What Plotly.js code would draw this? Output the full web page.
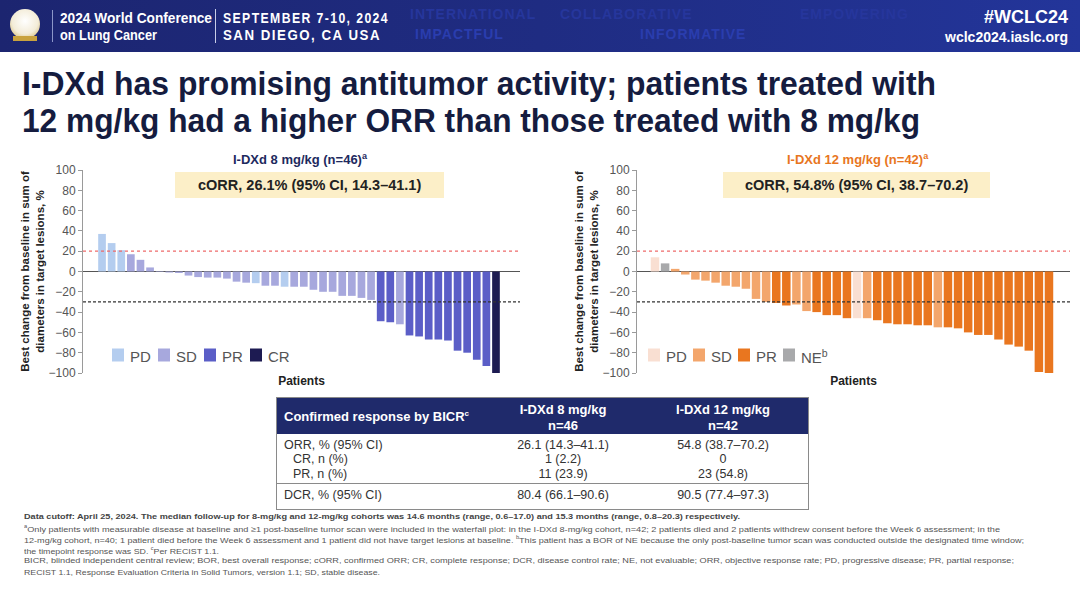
<!DOCTYPE html>
<html>
<head>
<meta charset="utf-8">
<script src="https://cdn.plot.ly/plotly-3.0.1.min.js"></script>
<style>
  html,body{margin:0;padding:0;background:#fff;}
  body{width:1080px;height:595px;position:relative;overflow:hidden;font-family:"Liberation Sans",Arial,sans-serif;}
  #chart{position:absolute;left:0;top:0;width:1080px;height:595px;z-index:0;}
  .layer{z-index:2;}
  .fit{display:inline-block;transform-origin:0 50%;}
  #header{position:absolute;left:0;top:0;width:1080px;height:52px;background:linear-gradient(90deg,#1c2570 0%,#1f2c82 50%,#23359a 100%);z-index:1;overflow:hidden;}
  .faint{position:absolute;color:#26369c;font-weight:bold;font-size:14px;letter-spacing:1px;white-space:nowrap;}
  .hw{position:absolute;color:#fff;white-space:nowrap;}
  .title{position:absolute;left:22px;color:#151c3f;font-family:"Liberation Sans Narrow","Arial Narrow","Liberation Sans",Arial,sans-serif;font-weight:bold;font-size:34px;white-space:nowrap;line-height:1;}
  #table{position:absolute;left:276px;top:397px;width:531px;height:111px;border:1px solid #8a8a8a;z-index:2;background:transparent;}
  .th{position:absolute;color:#fff;font-weight:bold;font-size:13px;white-space:nowrap;line-height:1;}
  .td{position:absolute;color:#333;font-size:12.5px;white-space:nowrap;line-height:1;}
  .fn{position:absolute;left:24px;color:#555;font-size:8px;white-space:nowrap;line-height:1;}
</style>
</head>
<body>
<div id="chart"></div>

<div id="header">
  <div class="faint" style="left:410px;top:6px;">INTERNATIONAL</div>
  <div class="faint" style="left:560px;top:6px;">COLLABORATIVE</div>
  <div class="faint" style="left:800px;top:6px;">EMPOWERING</div>
  <div class="faint" style="left:415px;top:26px;color:#2a3dae;">IMPACTFUL</div>
  <div class="faint" style="left:640px;top:26px;color:#2a3dae;">INFORMATIVE</div>
  <div style="position:absolute;left:10px;top:9px;width:30px;height:30px;border-radius:50%;background:radial-gradient(circle at 50% 40%,#ffffff 0%,#f3ecd8 55%,#c9a646 100%);"></div>
  <div style="position:absolute;left:13px;top:36px;width:24px;height:5px;background:#c9a23e;"></div>
  <div style="position:absolute;left:52px;top:10px;width:1px;height:32px;background:#8c96c8;"></div>
  <div class="hw" style="left:60px;top:10px;font-weight:bold;font-size:14px;"><span class="fit" data-w="152">2024 World Conference</span></div>
  <div class="hw" style="left:60px;top:27px;font-weight:bold;font-size:14px;"><span class="fit" data-w="97">on Lung Cancer</span></div>
  <div style="position:absolute;left:215px;top:9px;width:1px;height:34px;background:#c8cde8;"></div>
  <div class="hw" style="left:223px;top:10px;font-size:14px;letter-spacing:1.6px;font-weight:bold;"><span class="fit" data-w="166">SEPTEMBER 7-10, 2024</span></div>
  <div class="hw" style="left:223px;top:27px;font-size:14px;letter-spacing:1.6px;font-weight:bold;"><span class="fit" data-w="158">SAN DIEGO, CA USA</span></div>
  <div class="hw" style="right:12px;top:7px;font-weight:bold;font-size:18px;">#WCLC24</div>
  <div class="hw" style="right:12px;top:29px;font-weight:bold;font-size:14px;">wclc2024.iaslc.org</div>
</div>

<div class="title layer" style="top:66px;"><span class="fit" data-w="914">I-DXd has promising antitumor activity; patients treated with</span></div>
<div class="title layer" style="top:103px;"><span class="fit" data-w="898">12 mg/kg had a higher ORR than those treated with 8 mg/kg</span></div>

<div id="table">
  <div style="position:absolute;left:0;top:0;width:531px;height:36px;background:#1f2a6b;"></div>
  <div class="th" style="left:7px;top:12px;">Confirmed response by BICR<sup style="font-size:8px;">c</sup></div>
  <div class="th" style="left:206px;width:160px;text-align:center;top:5px;">I-DXd 8 mg/kg</div>
  <div class="th" style="left:206px;width:160px;text-align:center;top:21px;">n=46</div>
  <div class="th" style="left:366px;width:160px;text-align:center;top:5px;">I-DXd 12 mg/kg</div>
  <div class="th" style="left:366px;width:160px;text-align:center;top:21px;">n=42</div>
  <div class="td" style="left:7px;top:41px;">ORR, % (95% CI)</div>
  <div class="td" style="left:16px;top:55px;">CR, n (%)</div>
  <div class="td" style="left:16px;top:70px;">PR, n (%)</div>
  <div style="position:absolute;left:0;top:85px;width:531px;height:1px;background:#8a8a8a;"></div>
  <div class="td" style="left:7px;top:91px;">DCR, % (95% CI)</div>
  <div class="td" style="left:206px;width:160px;text-align:center;top:41px;">26.1 (14.3–41.1)</div>
  <div class="td" style="left:206px;width:160px;text-align:center;top:55px;">1 (2.2)</div>
  <div class="td" style="left:206px;width:160px;text-align:center;top:70px;">11 (23.9)</div>
  <div class="td" style="left:206px;width:160px;text-align:center;top:91px;">80.4 (66.1–90.6)</div>
  <div class="td" style="left:366px;width:160px;text-align:center;top:41px;">54.8 (38.7–70.2)</div>
  <div class="td" style="left:366px;width:160px;text-align:center;top:55px;">0</div>
  <div class="td" style="left:366px;width:160px;text-align:center;top:70px;">23 (54.8)</div>
  <div class="td" style="left:366px;width:160px;text-align:center;top:91px;">90.5 (77.4–97.3)</div>
</div>

<div class="fn layer" style="top:513px;font-weight:bold;color:#444;"><span class="fit" data-w="716">Data cutoff: April 25, 2024. The median follow-up for 8-mg/kg and 12-mg/kg cohorts was 14.6 months (range, 0.6–17.0) and 15.3 months (range, 0.8–20.3) respectively.</span></div>
<div class="fn layer" style="top:524px;"><span class="fit" data-w="976"><sup style="font-size:5px;">a</sup>Only patients with measurable disease at baseline and ≥1 post-baseline tumor scan were included in the waterfall plot: in the I-DXd 8-mg/kg cohort, n=42; 2 patients died and 2 patients withdrew consent before the Week 6 assessment; in the</span></div>
<div class="fn layer" style="top:535px;"><span class="fit" data-w="1000">12-mg/kg cohort, n=40; 1 patient died before the Week 6 assessment and 1 patient did not have target lesions at baseline. <sup style="font-size:5px;">b</sup>This patient has a BOR of NE because the only post-baseline tumor scan was conducted outside the designated time window;</span></div>
<div class="fn layer" style="top:546px;"><span class="fit" data-w="195">the timepoint response was SD. <sup style="font-size:5px;">c</sup>Per RECIST 1.1.</span></div>
<div class="fn layer" style="top:557px;"><span class="fit" data-w="990">BICR, blinded independent central review; BOR, best overall response; cORR, confirmed ORR; CR, complete response; DCR, disease control rate; NE, not evaluable; ORR, objective response rate; PD, progressive disease; PR, partial response;</span></div>
<div class="fn layer" style="top:569px;"><span class="fit" data-w="356">RECIST 1.1, Response Evaluation Criteria in Solid Tumors, version 1.1; SD, stable disease.</span></div>

<script>
// ---------- DATA ----------
const categories8 = ['PD','SD','PR','CR'];
const categories12 = ['PD','SD','PR','NE'];
const values8 = [37, 28, 21, 17, 11.5, 4, -0.5, -1, -1.5, -4, -5.5, -6, -6, -7, -10, -11, -11.5, -14, -14, -15,
                 -15, -15, -18, -20, -20, -24, -24, -26, -28, -49, -50, -52, -63, -64, -67, -67, -68, -78, -80, -87,
                 -93, -100];
const response8 = ['PD','PD','PD','SD','SD','SD','SD','SD','SD','SD','SD','SD','SD','SD','SD','SD','PD','SD','SD','PD',
                   'SD','SD','SD','SD','SD','SD','SD','SD','SD','PR','PR','SD','PR','PR','PR','PR','PR','PR','PR','PR',
                   'PR','CR'];
const values12 = [14, 8, 2.6, -3, -8, -9, -11, -14, -15, -17, -27, -30, -31, -33.5, -32.5, -39, -40, -43, -43, -46,
                  -46, -46, -48, -51, -52, -52, -53, -53, -55, -55, -56, -60, -62.5, -62.5, -67, -72, -74, -78, -99, -100];
const response12 = ['PD','NE','SD','SD','SD','SD','SD','SD','SD','SD','SD','SD','PR','PR','SD','SD','PR','PR','PR','PR',
                    'PD','SD','PR','PR','PR','PR','PR','PR','SD','PR','PR','PR','PR','PR','PR','PR','PR','PR','PR','PR'];
const colors8 = {PD:'#b4cdef', SD:'#a7a8dd', PR:'#5b5ec7', CR:'#1d1b52'};
const colors12 = {PD:'#f9dfd2', SD:'#f3a66c', PR:'#e9761f', NE:'#a8a9ab'};
const legendNames = {PD:'PD', SD:'SD', PR:'PR', CR:'CR', NE:'NE<sup>b</sup>'};

// ---------- TRACES ----------
function buildTraces(values, resp, cats, colors, xa, ya, bw) {
  return cats.map(c => {
    const xs = [], ys = [];
    values.forEach((v, i) => { if (resp[i] === c) { xs.push(i); ys.push(v); } });
    return {type:'bar', x:xs, y:ys, name:legendNames[c], marker:{color:colors[c], line:{width:0}},
            width:bw, xaxis:xa, yaxis:ya, showlegend:false, hoverinfo:'skip'};
  });
}
const traces = buildTraces(values8, response8, categories8, colors8, 'x', 'y', 0.8)
  .concat(buildTraces(values12, response12, categories12, colors12, 'x2', 'y2', 0.84));

const H = 595, W = 1080;
const py = p => 1 - p / H, px = p => p / W;
const ydom = [py(373), py(170)];
const yTitle = '<b>Best change from baseline in sum of<br>diameters in target lesions, %</b>';
function yax(anchor) {
  return {domain:ydom, anchor:anchor, range:[-100,100], dtick:20, tick0:0, showline:true, linecolor:'#9a9a9a', linewidth:1,
    ticks:'outside', ticklen:4, tickcolor:'#9a9a9a', tickfont:{size:12, color:'#555'}, showgrid:false,
    zeroline:true, zerolinecolor:'#555', zerolinewidth:1.3,
    title:{text:yTitle, font:{size:11.5, color:'#222'}, standoff:1}};
}
function xax(domain, range, anchor) {
  return {domain:domain, anchor:anchor, range:range, showticklabels:false, showline:false, showgrid:false, zeroline:false,
    ticks:'', title:{text:'<b>Patients</b>', font:{size:12, color:'#222'}, standoff:3}};
}
function refLines(xd, yr) {
  return [
    {type:'line', xref:xd, yref:yr, x0:0, x1:1, y0:20, y1:20, line:{color:'#ee6b6b', width:1.2, dash:'dot'}, layer:'above'},
    {type:'line', xref:xd, yref:yr, x0:0, x1:1, y0:-30, y1:-30, line:{color:'#333', width:1.2, dash:'3px,2px'}, layer:'above'}
  ];
}
const ann = (x, y, text, size, color, xanchor) => ({xref:'paper', yref:'paper', x:px(x), y:py(y), xanchor:xanchor || 'center',
  yanchor:'middle', text:text, showarrow:false, font:{size:size, color:color}});

// legend built from categories and colours (squares + labels)
function legendItems(cats, colors, x0, step, yc) {
  const sh = [], an = [];
  cats.forEach((c, i) => {
    const x = x0 + i * step;
    sh.push({type:'rect', xref:'paper', yref:'paper', x0:px(x), x1:px(x + 12), y0:py(yc + 6.5), y1:py(yc - 6.5),
             fillcolor:colors[c], line:{width:0}});
    an.push(ann(x + 16, yc + 1, legendNames[c], 15, '#555', 'left'));
  });
  return {sh, an};
}
const leg8 = legendItems(categories8, colors8, 112, 46, 355);
const leg12 = legendItems(categories12, colors12, 648, 45, 355);

const shapes = [
  {type:'rect', xref:'paper', yref:'paper', x0:px(175), x1:px(444), y0:py(198), y1:py(172), fillcolor:'#fcefc8', line:{width:0}, layer:'below'},
  {type:'rect', xref:'paper', yref:'paper', x0:px(723), x1:px(990), y0:py(198), y1:py(172), fillcolor:'#fcefc8', line:{width:0}, layer:'below'}
].concat(refLines('x domain','y'), refLines('x2 domain','y2'), leg8.sh, leg12.sh);

const annotations = [
  ann(300, 159, '<b>I-DXd 8 mg/kg (n=46)<sup>a</sup></b>', 13, '#1e2a5e'),
  ann(309, 185, '<b>cORR, 26.1% (95% CI, 14.3–41.1)</b>', 14.5, '#222'),
  ann(858, 159, '<b>I-DXd 12 mg/kg (n=42)<sup>a</sup></b>', 13, '#e8761e'),
  ann(856, 185, '<b>cORR, 54.8% (95% CI, 38.7–70.2)</b>', 14.5, '#222')
].concat(leg8.an, leg12.an);

const layout = {
  width:W, height:H, margin:{l:0, r:0, t:0, b:0}, paper_bgcolor:'rgba(0,0,0,0)', plot_bgcolor:'rgba(0,0,0,0)',
  font:{family:'"Liberation Sans", Arial, sans-serif', color:'#444'},
  barmode:'overlay', showlegend:false,
  xaxis: xax([px(83), px(520)], [-1.98, 43.5], 'y'),
  yaxis: yax('x'),
  xaxis2: xax([px(637), px(1070)], [-1.78, 41.08], 'y2'),
  yaxis2: yax('x2'),
  shapes: shapes, annotations: annotations
};

Plotly.newPlot('chart', traces, layout, {staticPlot:true, displayModeBar:false});

// fit text widths
document.querySelectorAll('.fit').forEach(el => {
  const target = parseFloat(el.dataset.w);
  const w = el.getBoundingClientRect().width;
  if (w > 0) el.style.transform = 'scaleX(' + (target / w) + ')';
});
</script>
</body>
</html>
